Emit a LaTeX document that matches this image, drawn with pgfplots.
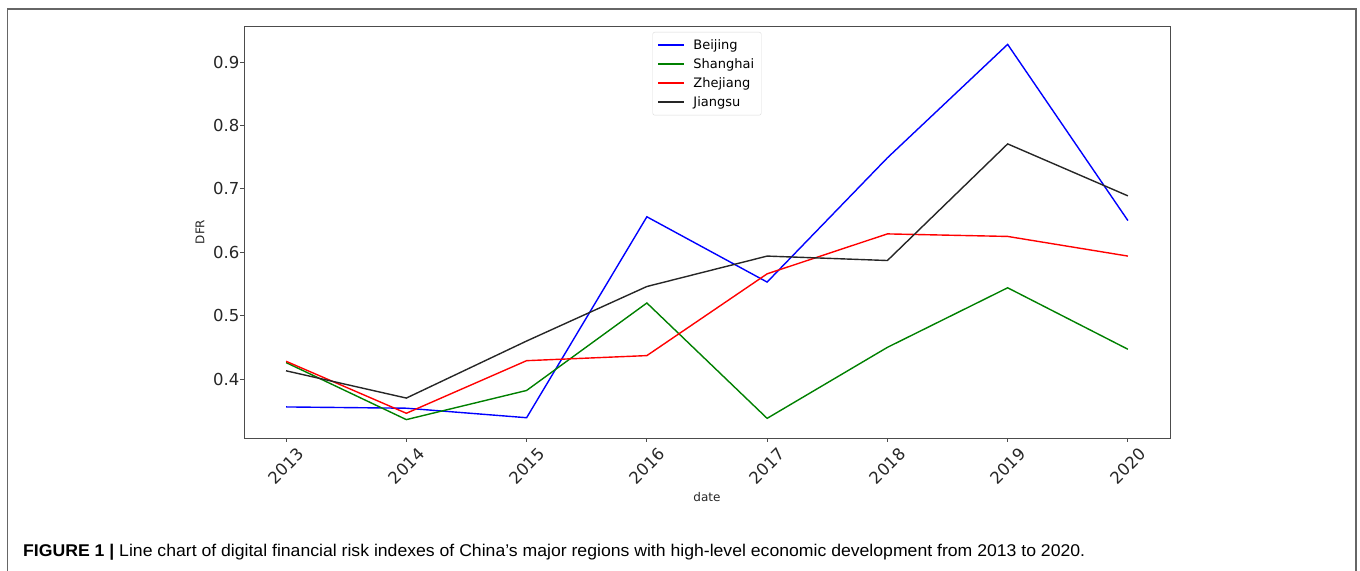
\documentclass[border=0pt]{standalone}
\usepackage{graphicx}
\usepackage{fontspec}
\setmainfont{DejaVu Sans}
\newfontfamily\capfont{Liberation Sans}
\usepackage{pgfplots}
\pgfplotsset{compat=1.18}
\definecolor{mblue}{RGB}{0,0,255}
\definecolor{mgreen}{RGB}{0,128,0}
\definecolor{mred}{RGB}{255,0,0}
\begin{document}
\begin{tikzpicture}
\useasboundingbox (0,0) rectangle (1360bp,571bp);
\draw[black!60, line width=1.8bp] (7.5bp,-5bp) -- (7.5bp,562bp) -- (1356bp,562bp) -- (1356bp,-5bp);
\begin{axis}[
  at={(244bp,133bp)}, anchor=south west,
  scale only axis, width=926bp, height=412bp,
  xmin=-0.35, xmax=7.35, ymin=0.307, ymax=0.957,
  xtick={0,1,2,3,4,5,6,7},
  xticklabels={2013,2014,2015,2016,2017,2018,2019,2020},
  ytick={0.4,0.5,0.6,0.7,0.8,0.9},
  yticklabels={0.4,0.5,0.6,0.7,0.8,0.9},
  xtick pos=lower, ytick pos=left,
  tick align=outside, major tick length=4bp,
  axis line style={black!70, line width=0.9bp},
  every tick/.style={black!70, line width=0.9bp},
  ticklabel style={font=\fontsize{16.5bp}{19bp}\selectfont, text=black!85},
  yticklabel style={inner sep=0pt, xshift=-0.5bp},
  xticklabel style={yshift=-24bp, rotate=45, anchor=center, inner sep=0pt},
  xlabel={date}, ylabel={DFR},
  xlabel style={at={(axis description cs:0.5,-0.1432)}, anchor=center, font=\fontsize{12bp}{14bp}\selectfont, text=black!85},
  ylabel style={at={(axis description cs:-0.0475,0.5)}, anchor=center, rotate=0, font=\fontsize{12bp}{14bp}\selectfont, text=black!85},
  legend style={at={(0.5,1)}, anchor=north, yshift=-6bp, draw=black!15, rounded corners=2bp,
    font=\fontsize{13bp}{15bp}\selectfont, inner sep=5bp, row sep=3bp},
  legend cell align=left,
  legend image code/.code={
    \path[draw=none, fill=none] (0bp,-8bp) rectangle (33bp,8bp);
    \draw[#1, sharp corners] (0bp,0bp) -- (26bp,0bp);},
]
\addplot[color=mblue, line width=1.4bp] coordinates {(0,0.356) (1,0.354) (2,0.339) (3,0.656) (4,0.553) (5,0.749) (6,0.928) (7,0.650)};
\addlegendentry{Beijing}
\addplot[color=mgreen, line width=1.4bp] coordinates {(0,0.426) (1,0.336) (2,0.382) (3,0.520) (4,0.338) (5,0.450) (6,0.544) (7,0.447)};
\addlegendentry{Shanghai}
\addplot[color=mred, line width=1.4bp] coordinates {(0,0.428) (1,0.346) (2,0.429) (3,0.437) (4,0.566) (5,0.629) (6,0.625) (7,0.594)};
\addlegendentry{Zhejiang}
\addplot[color=black!85, line width=1.4bp] coordinates {(0,0.413) (1,0.370) (2,0.460) (3,0.546) (4,0.594) (5,0.587) (6,0.771) (7,0.689)};
\addlegendentry{Jiangsu}
\end{axis}
\node[anchor=base west, inner sep=0pt] at (23bp,14bp) {\resizebox{1062bp}{\height}{\capfont\fontsize{17bp}{20bp}\selectfont\textbf{FIGURE 1 |} Line chart of digital financial risk indexes of China’s major regions with high-level economic development from 2013 to 2020.}};
\end{tikzpicture}
\end{document}
